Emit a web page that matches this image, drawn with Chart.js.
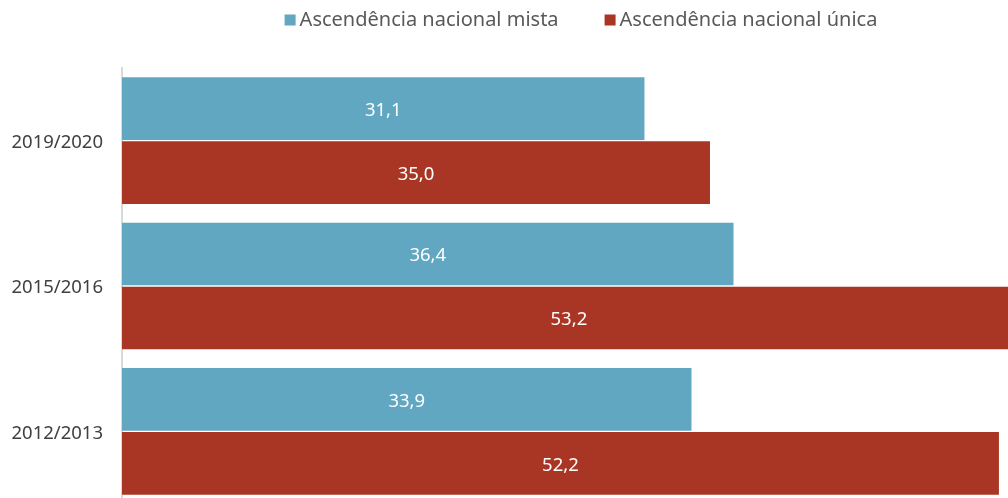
<!DOCTYPE html>
<html>
<head>
<meta charset="utf-8">
<script src="https://cdn.jsdelivr.net/npm/chart.js@4/dist/chart.umd.min.js"></script>
<style>
html, body { margin: 0; padding: 0; background: #fff; overflow: hidden; }
canvas { display: block; }
</style>
</head>
<body>
<canvas id="ascChart" width="1008" height="505"></canvas>
<script>
var anos = ['2019/2020', '2015/2016', '2012/2013'];
var serieNomes = ['Ascendência nacional mista', 'Ascendência nacional única'];
var mista = [31.1, 36.4, 33.9];
var unica = [35.0, 53.2, 52.2];
var cores = ['#62a7c1', '#a93624'];

var fonte = '"Noto Sans", sans-serif';

// legenda desenhada à mão para controlar espaçamentos
var legendaPlugin = {
    id: 'legendaTopo',
    afterDraw: function(chart) {
        var ctx = chart.ctx;
        ctx.save();
        ctx.font = '20px ' + fonte;
        ctx.textBaseline = 'middle';
        var box = 11, gapTxt = 4, gapItem = 46;
        var larguras = chart.data.datasets.map(function(ds) { return ctx.measureText(ds.label).width; });
        var total = 0;
        larguras.forEach(function(w, i) { total += box + gapTxt + w + (i > 0 ? gapItem : 0); });
        var x = 581 - total / 2;
        var y = 20;
        chart.data.datasets.forEach(function(ds, i) {
            ctx.fillStyle = ds.backgroundColor;
            ctx.fillRect(x, y - box / 2, box, box);
            ctx.fillStyle = '#595959';
            ctx.textAlign = 'left';
            ctx.fillText(ds.label, x + box + gapTxt, y);
            x += box + gapTxt + larguras[i] + gapItem;
        });
        ctx.restore();
    }
};

// valores dentro das barras
var rotulosPlugin = {
    id: 'rotulosBarras',
    afterDatasetsDraw: function(chart) {
        var ctx = chart.ctx;
        ctx.save();
        ctx.font = '18.5px ' + fonte;
        ctx.fillStyle = '#ffffff';
        ctx.textAlign = 'center';
        ctx.textBaseline = 'middle';
        chart.data.datasets.forEach(function(ds, i) {
            chart.getDatasetMeta(i).data.forEach(function(bar, j) {
                var cx = (bar.x + bar.base) / 2;
                ctx.fillText(ds.data[j].toFixed(1).replace('.', ','), cx, bar.y + 2);
            });
        });
        ctx.restore();
    }
};

var ctx1 = document.getElementById('ascChart').getContext('2d');
var ascChart = new Chart(ctx1, {
    type: 'bar',
    data: {
        labels: anos,
        datasets: [{
            label: serieNomes[0],
            data: mista,
            backgroundColor: cores[0],
            categoryPercentage: 0.88,
            barPercentage: 0.98
        }, {
            label: serieNomes[1],
            data: unica,
            backgroundColor: cores[1],
            categoryPercentage: 0.88,
            barPercentage: 0.98
        }]
    },
    options: {
        indexAxis: 'y',
        responsive: false,
        animation: false,
        layout: { padding: { top: 68, right: 0, bottom: 1, left: 0 } },
        plugins: {
            legend: { display: false },
            tooltip: { enabled: false }
        },
        scales: {
            x: {
                display: false,
                min: 0,
                max: 52.74
            },
            y: {
                grid: { display: false, drawTicks: false },
                border: { display: true, color: '#d9d9d9', width: 2 },
                ticks: {
                    padding: 19,
                    labelOffset: 2,
                    color: '#404040',
                    font: { family: fonte, size: 18.5 }
                },
                afterFit: function(scale) {
                    scale.width = 122;
                    scale.paddingTop = 0;
                    scale.paddingBottom = 0;
                }
            }
        }
    },
    plugins: [legendaPlugin, rotulosPlugin]
});
</script>
</body>
</html>
